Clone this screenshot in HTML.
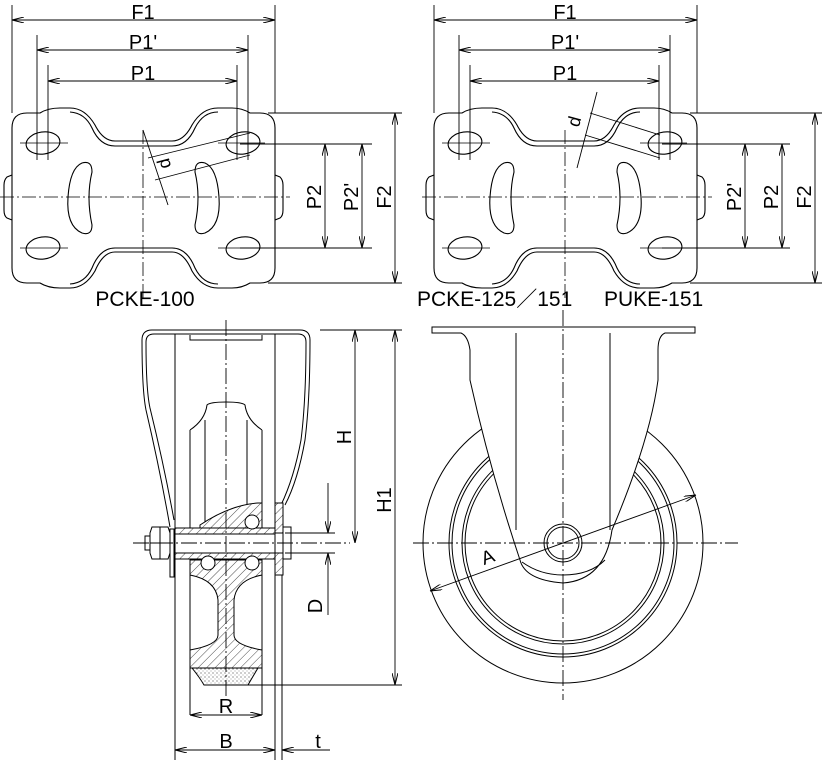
<!DOCTYPE html>
<html><head><meta charset="utf-8"><style>
html,body{margin:0;padding:0;background:#fff}
svg{display:block}
text{font-family:"Liberation Sans",sans-serif;fill:#000}
</style></head><body>
<svg width="822" height="762" viewBox="0 0 822 762" xmlns="http://www.w3.org/2000/svg">
<defs>
<pattern id="h" patternUnits="userSpaceOnUse" width="6" height="6" patternTransform="rotate(45)"><rect width="6" height="6" fill="#fff"/><line x1="0" y1="0" x2="0" y2="6" stroke="#000" stroke-width="0.7"/></pattern>
<pattern id="s" patternUnits="userSpaceOnUse" width="4" height="4"><rect width="4" height="4" fill="#fff"/><circle cx="1" cy="1" r="0.6" fill="#555"/><circle cx="3" cy="3" r="0.5" fill="#777"/></pattern>
<marker id="a" viewBox="0 0 12 6" refX="12" refY="3" markerWidth="12" markerHeight="6" orient="auto-start-reverse" markerUnits="userSpaceOnUse"><path d="M0,0 L12,3 L0,6" fill="none" stroke="#000" stroke-width="1"/></marker>
<g id="plate" fill="none" stroke="#000" stroke-width="1.1">
<path d="M27,113 L40,113 Q48,108 60,108 L70,108 Q85,108 95,125 Q103,141 115,141 L172,141 Q184,141 192,125 Q202,108 218,108 L232,108 Q242,108 250,113 L260,113 Q275,113 275,128 L275,268 Q275,283 260,283 L250,283 Q242,288 232,288 L218,288 Q202,288 192,271 Q184,252 172,252 L115,252 Q103,252 95,271 Q85,288 70,288 L60,288 Q48,288 40,283 L27,283 Q12,283 12,268 L12,128 Q12,113 27,113 Z"/>
<path d="M70,112 Q85,113 92,128 Q100,146 115,146 L172,146 Q187,146 195,128 Q203,112 218,112"/>
<path d="M70,284 Q85,283 92,268 Q100,248 115,248 L172,248 Q187,248 195,268 Q203,284 218,284"/>
<path d="M12,175 L7,177 Q4,180 4,185 L4,210 Q4,216 7,218 L12,220"/>
<path d="M275,175 L280,177 Q283,180 283,185 L283,210 Q283,216 280,218 L275,220"/>
<ellipse cx="43" cy="143" rx="17" ry="11" transform="rotate(-8 43 143)"/>
<ellipse cx="243" cy="143" rx="17" ry="11" transform="rotate(-8 243 143)"/>
<ellipse cx="43" cy="248" rx="17" ry="11" transform="rotate(-8 43 248)"/>
<ellipse cx="243" cy="248" rx="17" ry="11" transform="rotate(-8 243 248)"/>
<path d="M82,163 Q92,160 92,172 Q86,197 92,225 Q92,236 82,233 Q66,226 68,197 Q70,168 82,163 Z"/>
<path d="M205,163 Q195,160 195,172 Q201,197 195,225 Q195,236 205,233 Q221,226 219,197 Q217,168 205,163 Z"/>
<g stroke-width="0.8">
<line x1="20" y1="143" x2="68" y2="143"/><line x1="20" y1="248" x2="68" y2="248"/>
<line x1="218" y1="143" x2="265" y2="143"/><line x1="218" y1="248" x2="265" y2="248"/>
<line x1="0" y1="197" x2="290" y2="197" stroke-dasharray="14,3,2,3"/>
<line x1="143" y1="130" x2="143" y2="300" stroke-dasharray="14,3,2,3"/>
</g>
</g>
</defs>

<use href="#plate"/>
<g fill="none" stroke="#000" stroke-width="0.9">
<line x1="12" y1="5" x2="12" y2="113"/><line x1="275" y1="5" x2="275" y2="113"/>
<line x1="37" y1="35" x2="37" y2="160"/><line x1="248" y1="35" x2="248" y2="160"/>
<line x1="48" y1="65" x2="48" y2="160"/><line x1="237" y1="65" x2="237" y2="160"/>
<line x1="12" y1="20" x2="275" y2="20" marker-start="url(#a)" marker-end="url(#a)"/>
<line x1="37" y1="50" x2="248" y2="50" marker-start="url(#a)" marker-end="url(#a)"/>
<line x1="48" y1="81" x2="237" y2="81" marker-start="url(#a)" marker-end="url(#a)"/>
<line x1="268" y1="113" x2="402" y2="113"/><line x1="268" y1="283" x2="402" y2="283"/>
<line x1="240" y1="144" x2="372" y2="144"/><line x1="240" y1="248" x2="372" y2="248"/>
<line x1="395" y1="113" x2="395" y2="283" marker-start="url(#a)" marker-end="url(#a)"/>
<line x1="325" y1="144" x2="325" y2="248" marker-start="url(#a)" marker-end="url(#a)"/>
<line x1="362" y1="144" x2="362" y2="248" marker-start="url(#a)" marker-end="url(#a)"/>
<line x1="148" y1="158" x2="250" y2="133"/><line x1="155" y1="180" x2="250" y2="155"/>
<line x1="143" y1="130" x2="168" y2="205"/>
</g>
<text x="143" y="19" font-size="20" text-anchor="middle">F1</text>
<text x="143" y="49" font-size="20" text-anchor="middle">P1'</text>
<text x="143" y="80" font-size="20" text-anchor="middle">P1</text>
<text transform="translate(321,197) rotate(-90)" font-size="20" text-anchor="middle">P2</text>
<text transform="translate(358,197) rotate(-90)" font-size="20" text-anchor="middle">P2'</text>
<text transform="translate(391,197) rotate(-90)" font-size="20" text-anchor="middle">F2</text>
<text transform="translate(170,162) rotate(-105)" font-size="18" text-anchor="middle">d</text>
<text x="145" y="306" font-size="21" text-anchor="middle">PCKE-100</text>

<use href="#plate" x="422"/>
<g fill="none" stroke="#000" stroke-width="0.9">
<line x1="434" y1="5" x2="434" y2="113"/><line x1="697" y1="5" x2="697" y2="113"/>
<line x1="459" y1="35" x2="459" y2="160"/><line x1="670" y1="35" x2="670" y2="160"/>
<line x1="470" y1="65" x2="470" y2="160"/><line x1="659" y1="65" x2="659" y2="160"/>
<line x1="434" y1="20" x2="697" y2="20" marker-start="url(#a)" marker-end="url(#a)"/>
<line x1="459" y1="50" x2="670" y2="50" marker-start="url(#a)" marker-end="url(#a)"/>
<line x1="470" y1="81" x2="659" y2="81" marker-start="url(#a)" marker-end="url(#a)"/>
<line x1="690" y1="113" x2="822" y2="113"/><line x1="690" y1="283" x2="822" y2="283"/>
<line x1="662" y1="144" x2="790" y2="144"/><line x1="662" y1="248" x2="790" y2="248"/>
<line x1="815" y1="113" x2="815" y2="283" marker-start="url(#a)" marker-end="url(#a)"/>
<line x1="745" y1="144" x2="745" y2="248" marker-start="url(#a)" marker-end="url(#a)"/>
<line x1="782" y1="144" x2="782" y2="248" marker-start="url(#a)" marker-end="url(#a)"/>
<line x1="590" y1="113" x2="660" y2="135"/><line x1="585" y1="135" x2="660" y2="158"/>
<line x1="597" y1="92" x2="577" y2="168"/>
</g>
<text transform="translate(741,197) rotate(-90)" font-size="20" text-anchor="middle">P2'</text>
<text transform="translate(778,197) rotate(-90)" font-size="20" text-anchor="middle">P2</text>
<text transform="translate(811,197) rotate(-90)" font-size="20" text-anchor="middle">F2</text>
<text transform="translate(580,123) rotate(-75)" font-size="18" text-anchor="middle">d</text>
<text x="565" y="19" font-size="20" text-anchor="middle">F1</text>
<text x="565" y="49" font-size="20" text-anchor="middle">P1'</text>
<text x="565" y="80" font-size="20" text-anchor="middle">P1</text>
<text x="417" y="306" font-size="21">PCKE-125／151</text>
<text x="604" y="306" font-size="21">PUKE-151</text>

<g fill="none" stroke="#000" stroke-width="1">
<path d="M170,527 Q160,470 146,410 Q142,390 142,340 Q142,330 152,330 L300,330 Q310,330 310,340 Q310,400 305,440 Q298,480 285,505"/>
<path d="M174,520 Q164,465 150,408 Q146,390 146,342 Q146,334 154,334 L298,334 Q306,334 306,342 Q306,400 301,440 Q294,478 281,505"/>
<path d="M190,335 L190,340 L262,340 L262,335"/>
<line x1="175" y1="334" x2="175" y2="760"/><line x1="275" y1="334" x2="275" y2="760"/>
<line x1="282" y1="575" x2="282" y2="760"/>
<line x1="190" y1="430" x2="190" y2="528"/><line x1="262" y1="430" x2="262" y2="528"/>
<line x1="205" y1="420" x2="205" y2="528"/><line x1="247" y1="420" x2="247" y2="528"/>
<path d="M190,430 Q205,420 207,405 Q210,402 226,402 Q242,402 245,405 Q247,420 262,430"/>
<line x1="190" y1="575" x2="190" y2="715"/><line x1="262" y1="575" x2="262" y2="715"/>
</g>
<path d="M200,525 Q230,505 258,503 L262,503 L262,528 L200,528 Z" fill="url(#h)" stroke="#000"/>
<rect x="175" y="528" width="100" height="6" fill="url(#h)" stroke="#000"/>
<rect x="175" y="553" width="100" height="6" fill="url(#h)" stroke="#000"/>
<rect x="275" y="503" width="8" height="30" fill="url(#h)" stroke="#000"/>
<rect x="275" y="553" width="8" height="22" fill="url(#h)" stroke="#000"/>
<path d="M190,560 L262,560 L262,575 Q236,580 234,600 L234,635 Q234,645 262,650 L262,668 L190,668 L190,650 Q218,645 218,635 L218,600 Q216,580 190,575 Z" fill="url(#h)" stroke="#000"/>
<path d="M192,668 L258,668 Q252,678 248,685 L204,685 Q200,678 192,668 Z" fill="url(#s)" stroke="#000"/>
<g fill="#fff" stroke="#000">
<circle cx="252" cy="522" r="7"/><circle cx="208" cy="563" r="7"/><circle cx="252" cy="563" r="7"/>
<rect x="283" y="527" width="8" height="32"/>
<rect x="170" y="529" width="4" height="48"/>
<path d="M152,527 L168,527 L170,533 L170,553 L168,559 L152,559 L150,553 L150,533 Z"/>
<rect x="145" y="536" width="5" height="14"/>
</g>
<line x1="160" y1="527" x2="160" y2="559" stroke="#000"/>
<line x1="150" y1="543" x2="170" y2="543" stroke="#000"/>
<g fill="none" stroke="#000" stroke-width="0.9">
<line x1="226" y1="320" x2="226" y2="700" stroke-dasharray="16,3,2,3"/>
<line x1="133" y1="543" x2="350" y2="543" stroke-dasharray="16,3,2,3"/>
<line x1="320" y1="330" x2="402" y2="330"/><line x1="230" y1="685" x2="402" y2="685"/>
<line x1="355" y1="330" x2="355" y2="543" marker-start="url(#a)" marker-end="url(#a)"/>
<line x1="395" y1="330" x2="395" y2="685" marker-start="url(#a)" marker-end="url(#a)"/>
<line x1="285" y1="533" x2="335" y2="533"/><line x1="285" y1="553" x2="335" y2="553"/>
<line x1="328" y1="483" x2="328" y2="533" marker-end="url(#a)"/>
<line x1="328" y1="615" x2="328" y2="553" marker-end="url(#a)"/>
<line x1="190" y1="715" x2="262" y2="715" marker-start="url(#a)" marker-end="url(#a)"/>
<line x1="175" y1="750" x2="275" y2="750" marker-start="url(#a)" marker-end="url(#a)"/>
<line x1="330" y1="750" x2="282" y2="750" marker-end="url(#a)"/>
</g>
<text transform="translate(351,437) rotate(-90)" font-size="20" text-anchor="middle">H</text>
<text transform="translate(391,500) rotate(-90)" font-size="20" text-anchor="middle">H1</text>
<text transform="translate(322,606) rotate(-90)" font-size="20" text-anchor="middle">D</text>
<text x="226" y="713" font-size="20" text-anchor="middle">R</text>
<text x="226" y="748" font-size="20" text-anchor="middle">B</text>
<text x="318" y="748" font-size="20" text-anchor="middle">t</text>

<g fill="none" stroke="#000" stroke-width="1">
<circle cx="563" cy="543" r="140"/>
<circle cx="563" cy="543" r="114"/><circle cx="563" cy="543" r="111"/>
<circle cx="563" cy="543" r="101"/><circle cx="563" cy="543" r="98"/>
</g>
<path d="M432,327 L695,327 L695,333 L665,333 Q658,336 658,350 L658,380 Q650,440 612,530 Q605,580 563,583 Q525,580 520,560 Q490,470 470,380 L470,350 Q468,336 461,333 L432,333 Z" fill="#fff" stroke="#000"/>
<path d="M522,562 Q540,575 563,575 Q590,575 605,560" fill="none" stroke="#000"/>
<g fill="none" stroke="#000">
<line x1="516" y1="333" x2="516" y2="530"/><line x1="610" y1="333" x2="610" y2="530"/>
<circle cx="563" cy="543" r="19" fill="#fff"/><circle cx="563" cy="543" r="16"/>
<line x1="563" y1="310" x2="563" y2="700" stroke-dasharray="16,3,2,3" stroke-width="0.9"/>
<line x1="413" y1="543" x2="738" y2="543" stroke-dasharray="16,3,2,3" stroke-width="0.9"/>
<line x1="430" y1="591" x2="696" y2="495" marker-start="url(#a)" marker-end="url(#a)" stroke-width="0.9"/>
</g>
<text transform="translate(490,563) rotate(-20)" font-size="19" text-anchor="middle">A</text>
</svg>
</body></html>
